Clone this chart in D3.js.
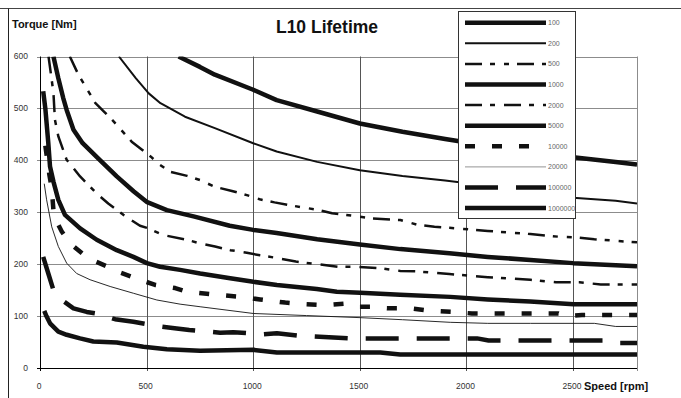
<!DOCTYPE html>
<html>
<head>
<meta charset="utf-8">
<script src="https://cdn.jsdelivr.net/npm/d3@7"></script>
<style>
  body { margin: 0; background: #fff; }
  svg { display: block; font-family: Arial, "Liberation Sans", sans-serif; }
</style>
</head>
<body>
<div id="chart"></div>
<script>
// Lifetime curves, [speed rpm, torque Nm]
var l100 = [[650,600],[750,580],[820,565],[1000,536],[1110,516],[1300,494],[1500,471],[1700,455],[1900,441],[2100,428],[2300,417],[2500,406],[2700,397],[2800,392]];
var l200 = [[370,600],[450,558],[510,529],[565,510],[680,484],[820,462],[1000,433],[1110,417],[1300,397],[1500,381],[1700,370],[1900,361],[2100,351],[2300,340],[2500,328],[2700,322],[2800,317]];
var l500 = [[140,600],[180,565],[260,510],[300,494],[345,475],[430,436],[480,420],[520,407],[560,392],[610,378],[690,370],[750,362],[820,349],[900,341],[970,333],[1030,325],[1100,319],[1220,310],[1300,305],[1370,298],[1490,292],[1560,288],[1690,285],[1770,276],[1850,272],[1920,270],[2100,264],[2300,258],[2430,253],[2500,252],[2600,248],[2700,245],[2800,242]];
var l1000 = [[63,600],[86,558],[109,520],[125,497],[157,459],[200,433],[280,401],[360,369],[440,340],[500,320],[595,304],[720,292],[890,274],[1000,266],[1110,260],[1300,248],[1500,238],[1690,229],[1920,221],[2100,214],[2300,208],[2500,202],[2700,198],[2800,196]];
var l2000 = [[40,600],[50,570],[63,530],[70,478],[86,446],[125,401],[188,369],[274,333],[320,317],[391,295],[469,274],[508,269],[579,256],[688,247],[751,240],[821,234],[892,227],[970,222],[1032,217],[1095,213],[1200,205],[1300,200],[1400,195],[1490,195],[1600,192],[1690,187],[1770,186],[1920,181],[2100,175],[2300,170],[2420,165],[2530,165],[2630,161],[2800,161]];
var l5000 = [[15,533],[25,500],[39,433],[47,388],[63,359],[86,324],[117,295],[188,269],[266,247],[360,227],[438,214],[501,202],[563,195],[657,189],[751,182],[892,173],[1001,166],[1111,160],[1298,152],[1392,147],[1502,145],[1689,141],[1924,137],[2100,132],[2299,128],[2503,123],[2800,123]];
var l10000 = [[25,428],[44,372],[55,346],[63,304],[78,282],[102,263],[141,240],[227,211],[336,192],[375,184],[469,170],[540,160],[634,154],[688,147],[829,141],[946,137],[1032,132],[1150,126],[1237,123],[1337,121],[1431,124],[1470,118],[1549,118],[1627,115],[1736,115],[1830,110],[1940,108],[2026,105],[2338,105],[2432,105],[2464,100],[2542,102],[2800,102]];
var l20000 = [[20,355],[31,324],[55,272],[86,234],[125,202],[172,182],[235,170],[329,157],[438,144],[548,131],[657,123],[751,118],[1001,105],[1250,101],[1502,97],[1700,93],[1924,88],[2100,86],[2300,86],[2600,86],[2700,80],[2800,80]];
var l100000 = [[15,214],[39,182],[63,150],[102,131],[157,115],[219,108],[266,105],[352,94],[438,89],[548,81],[641,76],[700,73],[845,68],[907,69],[1048,65],[1111,67],[1220,62],[1447,57],[1850,57],[2050,57],[2104,53],[2651,53],[2706,48],[2800,48]];
var l1000000 = [[20,110],[30,100],[47,86],[86,70],[125,64],[188,57],[250,51],[360,49],[485,41],[595,36],[751,33],[1001,35],[1111,30],[1596,30],[1689,26],[2800,26]];

var lifetimeLabels = ["100", "200", "500", "1000", "2000", "5000", "10000", "20000", "100000", "1000000"];
var xTicks = [0, 500, 1000, 1500, 2000, 2500];
var yTicks = [0, 100, 200, 300, 400, 500, 600];

var seriesData = [l100, l200, l500, l1000, l2000, l5000, l10000, l20000, l100000, l1000000];

// Line look for each lifetime
var lineStyles = [
  { w: 4.5, dash: null },
  { w: 2, dash: null },
  { w: 2.5, dash: "17,8,5,9,5,8" },
  { w: 4.5, dash: null },
  { w: 2.5, dash: "17,8,5,9" },
  { w: 4.5, dash: null },
  { w: 4.5, dash: "10,17" },
  { w: 0.9, dash: null },
  { w: 4.5, dash: "33,18" },
  { w: 4.5, dash: null }
];

var width = 681, height = 398;

var svg = d3.select("#chart").append("svg")
  .attr("width", width)
  .attr("height", height);

var x = d3.scaleLinear().domain([0, 2800]).range([40, 637]);
var y = d3.scaleLinear().domain([0, 600]).range([368, 56.5]);

// outer frame lines
svg.append("line").attr("x1", 0).attr("x2", width).attr("y1", 8.5).attr("y2", 8.5)
  .attr("stroke", "#444").attr("stroke-width", 1);
svg.append("line").attr("x1", 8.5).attr("x2", 8.5).attr("y1", 8.5).attr("y2", height)
  .attr("stroke", "#222").attr("stroke-width", 1);

svg.append("defs").append("clipPath").attr("id", "plotClip")
  .append("rect")
  .attr("x", x(0)).attr("y", y(600))
  .attr("width", x(2800) - x(0)).attr("height", y(0) - y(600));

// grid
svg.append("g").selectAll("line")
  .data(yTicks.filter(function (d) { return d > 0; }))
  .enter().append("line")
  .attr("x1", x(0) - 3).attr("x2", x(2800))
  .attr("y1", function (d) { return Math.round(y(d)) + 0.5; })
  .attr("y2", function (d) { return Math.round(y(d)) + 0.5; })
  .attr("stroke", "#8c8c8c").attr("stroke-width", 1);

svg.append("g").selectAll("line")
  .data(xTicks.filter(function (d) { return d > 0; }).concat([2800]))
  .enter().append("line")
  .attr("x1", function (d) { return Math.round(x(d)) + 0.5; })
  .attr("x2", function (d) { return Math.round(x(d)) + 0.5; })
  .attr("y1", y(600)).attr("y2", y(0) + 3)
  .attr("stroke", function (d) { return d === 2800 ? "#8c8c8c" : "#555"; })
  .attr("stroke-width", 1);

// axes lines
svg.append("line").attr("x1", Math.round(x(0)) + 0.5).attr("x2", Math.round(x(0)) + 0.5)
  .attr("y1", y(600)).attr("y2", y(0) + 3).attr("stroke", "#000");
svg.append("line").attr("x1", x(0) - 3).attr("x2", x(2800))
  .attr("y1", Math.round(y(0)) + 0.5).attr("y2", Math.round(y(0)) + 0.5).attr("stroke", "#000");

// tick labels
svg.append("g").selectAll("text")
  .data(yTicks).enter().append("text")
  .attr("x", 28).attr("y", function (d) { return y(d); })
  .attr("dy", "0.35em")
  .attr("text-anchor", "end")
  .style("font-size", "8.5px").style("fill", "#333")
  .text(function (d) { return d; });

svg.append("g").selectAll("text")
  .data(xTicks).enter().append("text")
  .attr("x", function (d) { return x(d) - 1; }).attr("y", 386)
  .attr("dy", "0.35em")
  .attr("text-anchor", "middle")
  .style("font-size", "8.5px").style("fill", "#333")
  .text(function (d) { return d; });

// curves
var line = d3.line()
  .x(function (d) { return x(d[0]); })
  .y(function (d) { return y(d[1]); });

svg.append("g").attr("clip-path", "url(#plotClip)")
  .selectAll("path")
  .data(seriesData).enter().append("path")
  .attr("d", line)
  .attr("fill", "none")
  .attr("stroke", "#111")
  .attr("stroke-width", function (d, i) { return lineStyles[i].w; })
  .attr("stroke-dasharray", function (d, i) { return lineStyles[i].dash; })
  .attr("stroke-linejoin", "round");

// titles
svg.append("text").attr("x", 12).attr("y", 24).attr("dy", "0.35em")
  .style("font-size", "11px").style("font-weight", "bold").style("fill", "#111")
  .text("Torque [Nm]");
svg.append("text").attr("x", 327).attr("y", 27).attr("dy", "0.35em")
  .attr("text-anchor", "middle")
  .style("font-size", "17.5px").style("font-weight", "bold").style("fill", "#111")
  .text("L10 Lifetime");
svg.append("text").attr("x", 584).attr("y", 386).attr("dy", "0.35em")
  .style("font-size", "11px").style("font-weight", "bold").style("fill", "#111")
  .text("Speed [rpm]");

// legend
var legend = svg.append("g");
legend.append("rect")
  .attr("x", 458.5).attr("y", 11.5).attr("width", 117).attr("height", 207)
  .attr("fill", "#fff").attr("stroke", "#333").attr("stroke-width", 1);

var rows = legend.selectAll("g.row")
  .data(lifetimeLabels).enter().append("g")
  .attr("class", "row")
  .attr("transform", function (d, i) { return "translate(0," + (22.7 + i * 20.6) + ")"; });

rows.append("line")
  .attr("x1", 465).attr("x2", 546).attr("y1", 0).attr("y2", 0)
  .attr("stroke", function (d, i) { return i === 7 ? "#888" : "#111"; })
  .attr("stroke-width", function (d, i) { return lineStyles[i].w; })
  .attr("stroke-dasharray", function (d, i) { return lineStyles[i].dash; });

rows.append("text")
  .attr("x", 548).attr("y", 0).attr("dy", "0.35em")
  .style("font-size", "7px").style("fill", "#666")
  .text(function (d) { return d; });
</script>
</body>
</html>
